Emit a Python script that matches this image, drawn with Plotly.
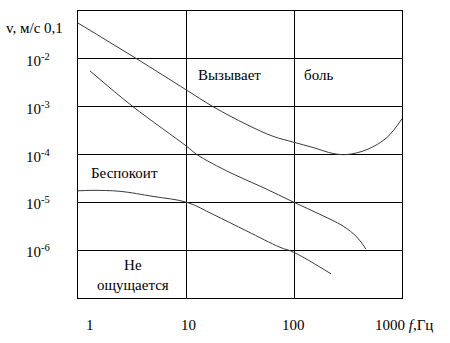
import numpy as np
import plotly.graph_objects as go

# Upper curve: "Вызывает боль" threshold
pain_f = [1, 3.5, 10, 17.8, 36.7, 64, 100, 150, 230, 310, 475, 725, 1000]
pain_v = [0.056, 0.01, 2.26e-3, 1.0e-3, 4.2e-4, 2.4e-4, 1.8e-4, 1.4e-4, 1.05e-4, 1.0e-4, 1.27e-4, 2.26e-4, 5.6e-4]

# Middle curve: "Беспокоит" threshold
bother_f = [1.29, 3.23, 10.2, 12.6, 25.5, 51.6, 100, 174, 284, 383, 464]
bother_v = [5.6e-3, 1.0e-3, 1.47e-4, 1.0e-4, 4.2e-5, 2.05e-5, 1.0e-5, 5.6e-6, 3.2e-6, 1.87e-6, 1.05e-6]

# Lower curve: "Не ощущается" threshold
feel_f = [1, 1.35, 2.45, 4.95, 10.2, 17.8, 36.7, 74, 100, 220]
feel_v = [1.74e-5, 1.78e-5, 1.7e-5, 1.33e-5, 1.0e-5, 5.6e-6, 2.5e-6, 1.15e-6, 9.0e-7, 3.2e-7]

# Axis tick labels
y_tick_vals = [0.1, 1e-2, 1e-3, 1e-4, 1e-5, 1e-6]
y_tick_text = ["v, м/с 0,1", "10<sup>-2</sup>", "10<sup>-3</sup>", "10<sup>-4</sup>",
               "10<sup>-5</sup>", "10<sup>-6</sup>"]
x_tick_vals = [1, 10, 100, 1000]
x_tick_text = ["1", "10", "100", "1000 <i>f</i>,Гц"]

# Region labels
region_text = ["Вызывает", "боль", "Беспокоит", "Не<br>ощущается"]
region_f = [25.5, 170, 2.67, 3.23]
region_v = [4.6e-3, 4.6e-3, 4.2e-5, 3.1e-7]

FONT = "'Liberation Serif'"
fig = go.Figure()
for fx, vy in [(pain_f, pain_v), (bother_f, bother_v), (feel_f, feel_v)]:
    fig.add_trace(go.Scatter(x=fx, y=vy, mode="lines", line=dict(color="#3a3a3a", width=1, shape="spline"),
                             showlegend=False, hoverinfo="skip"))

ann = []
for v, t in zip(y_tick_vals, y_tick_text):
    first = (v == 0.1)
    ann.append(dict(x=0, xref="paper", y=np.log10(v), yref="y", text=t, showarrow=False,
                    xanchor="right", yanchor="middle",
                    xshift=-13 if first else -26, yshift=-17 if first else -1,
                    font=dict(family=FONT, size=15, color="black")))
x_shifts = [12, 2, -1, 0]
for f, t, s in zip(x_tick_vals, x_tick_text, x_shifts):
    last = (f == 1000)
    ann.append(dict(x=np.log10(f), xref="x", y=0, yref="paper", text=t, showarrow=False,
                    xanchor="left" if last else "center", yanchor="middle",
                    xshift=-29 if last else s, yshift=-27,
                    font=dict(family=FONT, size=15, color="black")))
for f, v, t in zip(region_f, region_v, region_text):
    ann.append(dict(x=np.log10(f), y=np.log10(v), xref="x", yref="y", text=t, showarrow=False,
                    xanchor="center", yanchor="middle",
                    font=dict(family=FONT, size=15, color="black")))

fig.update_layout(
    width=450, height=343,
    margin=dict(l=78, r=48, t=11, b=45),
    paper_bgcolor="white", plot_bgcolor="white",
    annotations=ann,
    font=dict(family=FONT, size=15, color="black"),
)
fig.update_xaxes(type="log", range=[0, 3], dtick=1, showgrid=True, gridcolor="black", gridwidth=1.3,
                 showline=True, linecolor="black", linewidth=1.3, mirror=True,
                 showticklabels=False, ticks="", zeroline=False)
fig.update_yaxes(type="log", range=[-7, -1], dtick=1, showgrid=True, gridcolor="black", gridwidth=1.3,
                 showline=True, linecolor="black", linewidth=1.3, mirror=True,
                 showticklabels=False, ticks="", zeroline=False)

fig.write_html("out.html")
